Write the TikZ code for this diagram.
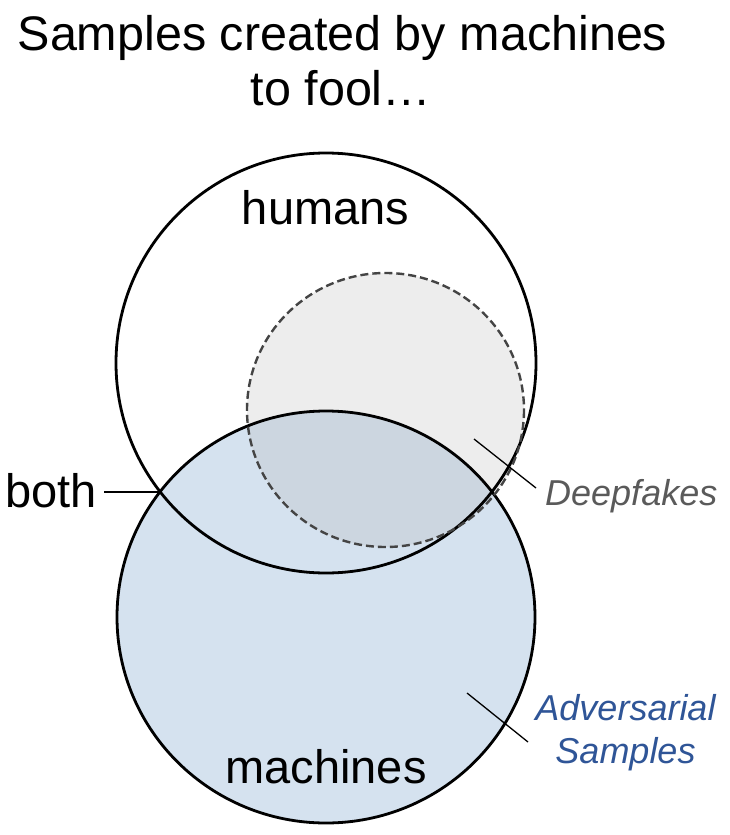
\documentclass[tikz,border=0pt]{standalone}
\usepackage{fontspec}
\setmainfont{Liberation Sans}
\definecolor{machblue}{HTML}{D5E2EF}
\definecolor{fakegray}{HTML}{EDEDED}
\definecolor{overlapc}{HTML}{CCD6E0}
\definecolor{dashgray}{HTML}{444444}
\definecolor{fakelabel}{HTML}{5A5A5A}
\definecolor{advblue}{HTML}{2F5597}
\begin{document}
\begin{tikzpicture}[x=1pt,y=-1pt,
  bigtext/.style={inner sep=0pt,font=\fontsize{47}{55}\selectfont},
  titletext/.style={inner sep=0pt,font=\fontsize{48.5}{55}\selectfont},
  smalltext/.style={inner sep=0pt,font=\fontsize{36}{43}\selectfont\itshape},
  outline/.style={line width=2.8pt,black},
  callout/.style={line width=1.3pt,black}]
\useasboundingbox (0,0) rectangle (730,835);
% fills
\fill[machblue] (326,617) ellipse [x radius=209,y radius=206];
\fill[fakegray] (385.5,410) ellipse [x radius=138.5,y radius=137];
\begin{scope}
  \clip (326,617) ellipse [x radius=209,y radius=206];
  \fill[overlapc] (385.5,410) ellipse [x radius=138.5,y radius=137];
\end{scope}
% outlines
\draw[outline] (326,363) circle [radius=210];
\draw[outline] (326,617) ellipse [x radius=209,y radius=206];
\draw[line width=2.4pt,dashgray,dash pattern=on 8pt off 4pt] (385.5,410) ellipse [x radius=138.5,y radius=137];
% titles
\node[titletext,anchor=base] (t1) at (342.5,50) {Samples created by machines};
\node[titletext,anchor=base] (t2) at (341,105) {to fool\ldots};
\node[bigtext,anchor=base] (hum) at (325.5,224) {humans};
\node[bigtext,anchor=base] (mach) at (326,783) {machines};
\node[bigtext,anchor=base west] (both) at (5,507) {both};
\node[smalltext,anchor=base west,text=fakelabel] (fake) at (545,505) {Deepfakes};
\node[smalltext,anchor=base,text=advblue,align=center] (adv) at (625.5,763) {Adversarial\\Samples};
% callouts
\coordinate (bothpt) at (161,492);
\coordinate (fakein) at (474,439);
\coordinate (fakeout) at (536,488);
\coordinate (advin) at (467,693);
\coordinate (advout) at (528,742);
\draw[callout] (104,492) -- (bothpt);
\draw[callout] (fakein) -- (fakeout);
\draw[callout] (advin) -- (advout);
\end{tikzpicture}
\end{document}
